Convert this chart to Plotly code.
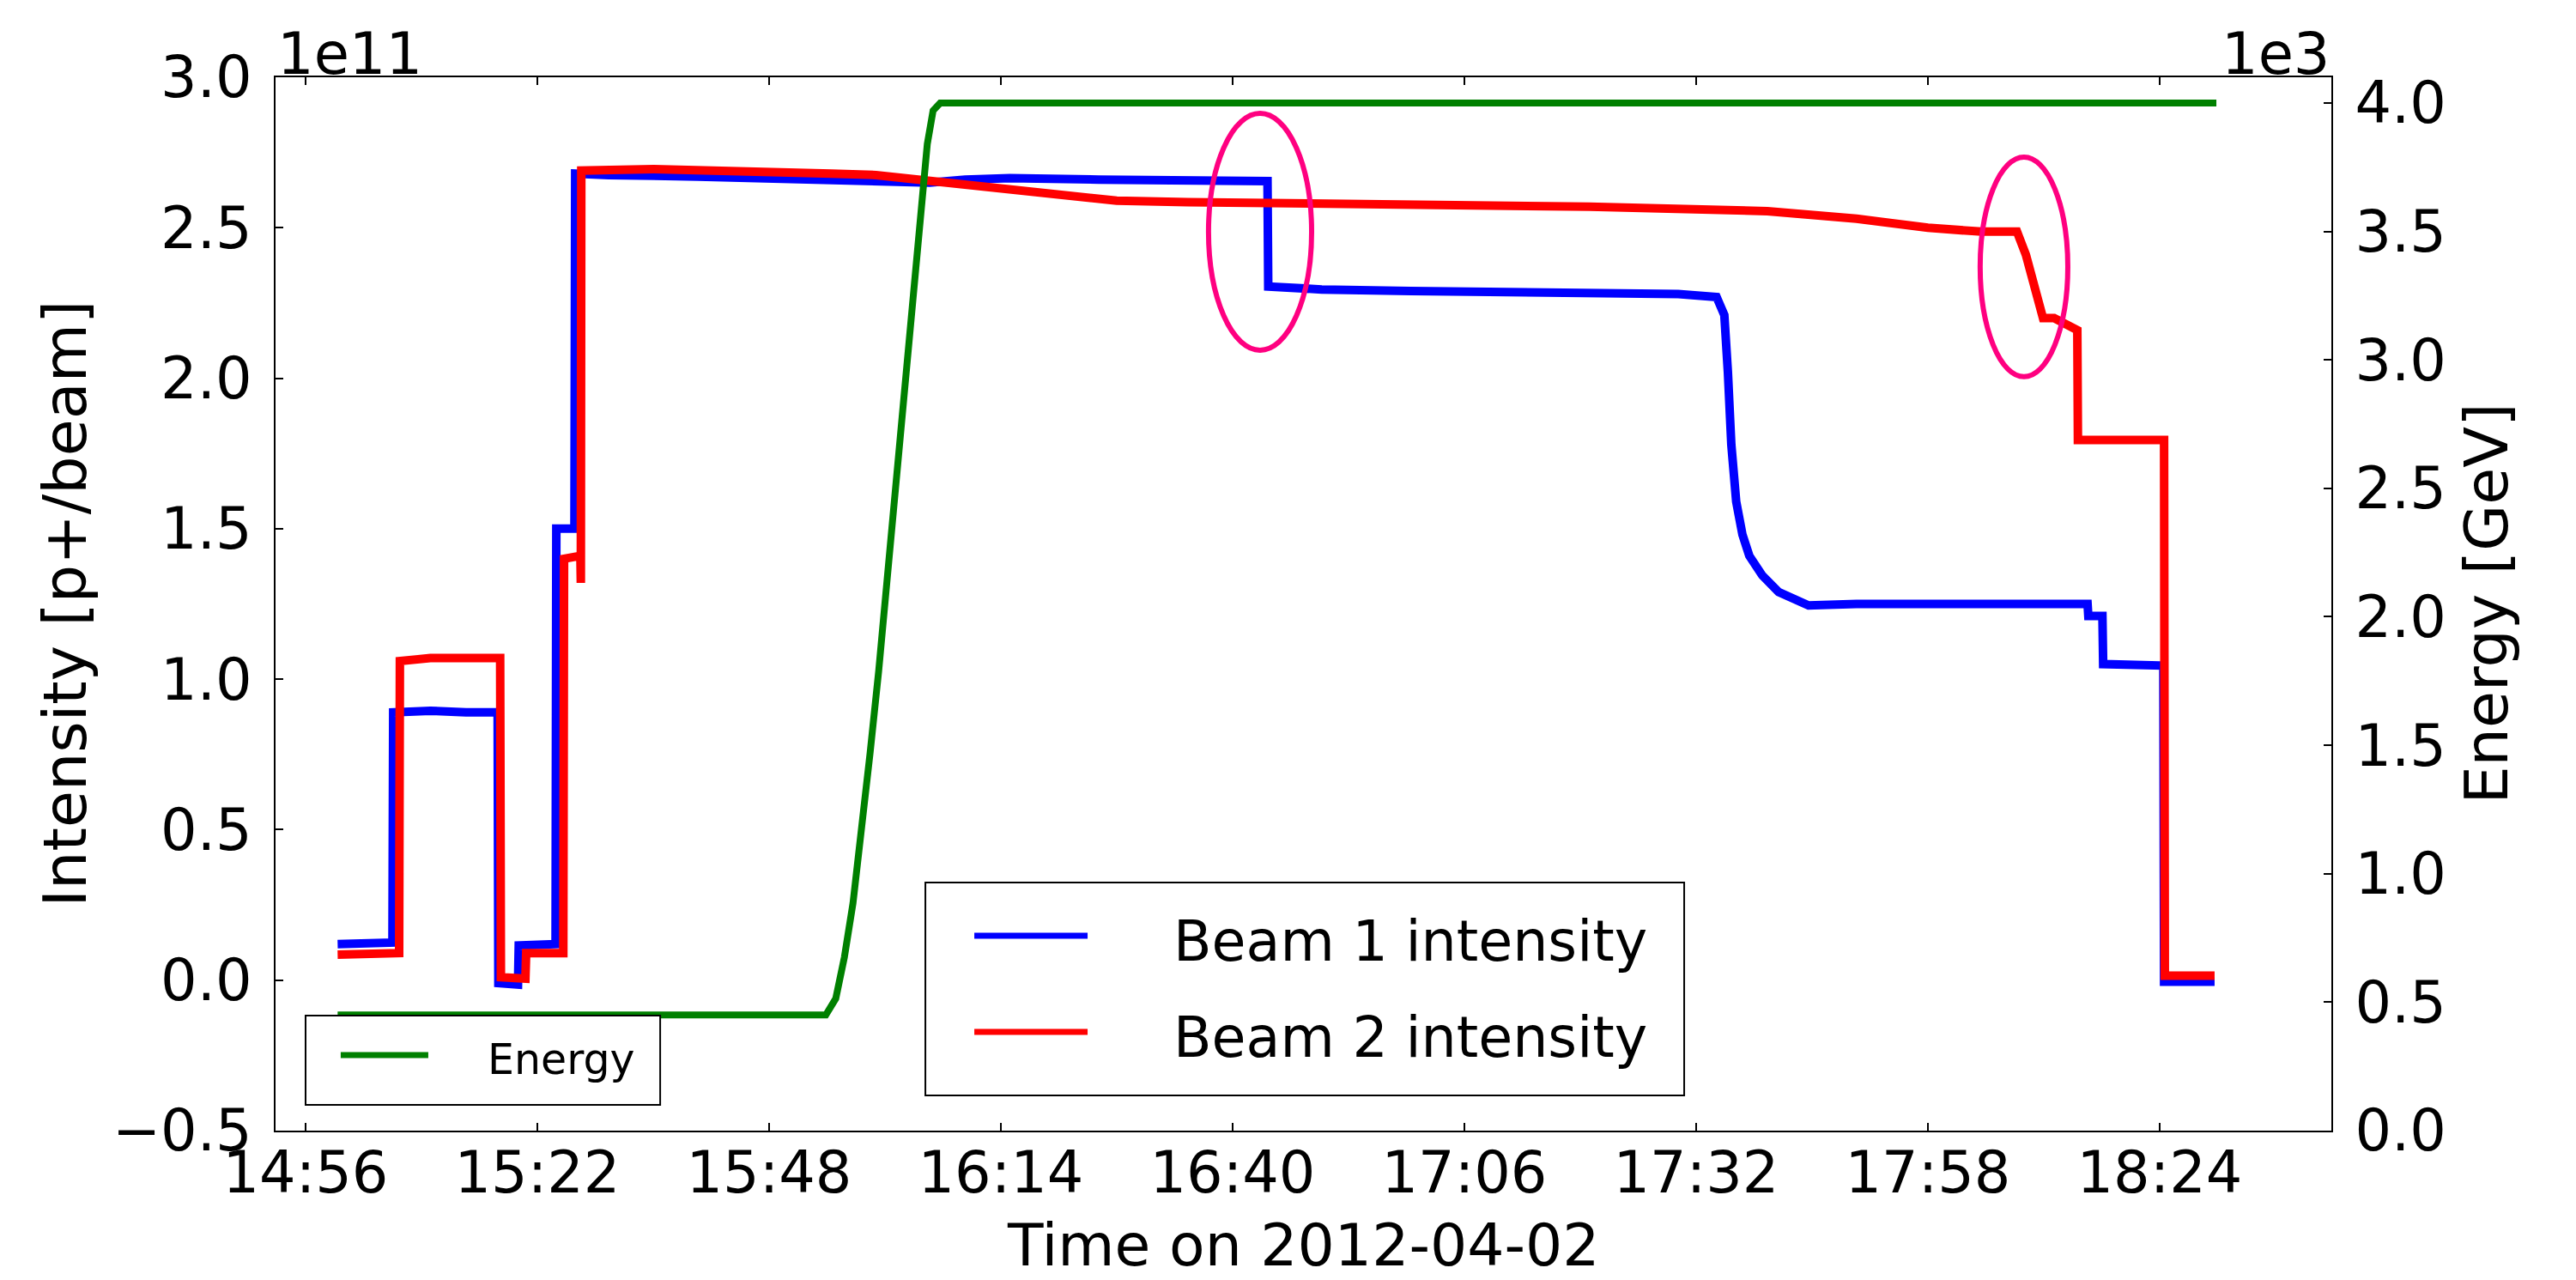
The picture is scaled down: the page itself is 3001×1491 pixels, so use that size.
import plotly.graph_objects as go

DATE = "2012-04-02 "

# ---- data (intensity in units of 1e11, energy in GeV) ----
b1_time = ["14:59:36", "15:02:30", "15:05:45", "15:05:50", "15:10:00", "15:14:00", "15:17:33",
           "15:17:38", "15:19:50", "15:19:55", "15:22:00", "15:24:03", "15:24:08", "15:26:10",
           "15:26:15", "15:30:00", "15:40:00", "15:50:00", "16:00:00", "16:06:00", "16:10:00",
           "16:15:00", "16:25:00", "16:35:00", "16:43:55", "16:44:00", "16:50:00", "17:00:00",
           "17:10:00", "17:20:00", "17:30:00", "17:34:18", "17:35:10", "17:35:34", "17:35:57",
           "17:36:30", "17:37:12", "17:37:58", "17:39:25", "17:41:15", "17:43:10", "17:44:37",
           "17:50:00", "18:00:00", "18:10:00", "18:15:55", "18:16:00", "18:17:35", "18:17:40",
           "18:24:25", "18:24:30", "18:30:10"]
b1_val = [0.12, 0.125, 0.125, 0.89, 0.895, 0.89, 0.89,
          -0.01, -0.015, 0.115, 0.12, 0.12, 1.50, 1.50,
          2.68, 2.675, 2.67, 2.665, 2.655, 2.65, 2.66,
          2.665, 2.66, 2.655, 2.655, 2.305, 2.295, 2.29,
          2.285, 2.28, 2.28, 2.27, 2.21, 2.02, 1.78,
          1.59, 1.48, 1.41, 1.345, 1.29, 1.26, 1.245,
          1.25, 1.25, 1.255, 1.25, 1.21, 1.21, 1.05,
          1.045, -0.005, -0.005]

b2_time = ["14:59:36", "15:03:00", "15:06:30", "15:06:35", "15:10:00", "15:14:00", "15:17:50",
           "15:17:55", "15:20:40", "15:20:45", "15:23:00", "15:24:55", "15:25:00", "15:26:50",
           "15:26:53", "15:26:56", "15:35:00", "15:45:00", "15:55:00", "16:00:00", "16:05:00",
           "16:10:00", "16:15:00", "16:20:00", "16:27:00", "16:35:00", "16:45:00", "17:05:00",
           "17:20:00", "17:30:00", "17:40:00", "17:50:00", "17:58:00", "18:04:00", "18:08:00",
           "18:09:00", "18:09:50", "18:10:25", "18:10:55", "18:12:10", "18:14:30", "18:14:46",
           "18:14:50", "18:24:30", "18:24:35", "18:30:10"]
b2_val = [0.085, 0.09, 0.09, 1.06, 1.07, 1.07, 1.07,
          0.01, 0.005, 0.09, 0.09, 0.09, 1.40, 1.41,
          1.32, 2.69, 2.695, 2.69, 2.68, 2.675, 2.66,
          2.645, 2.625, 2.61, 2.59, 2.585, 2.58, 2.575,
          2.57, 2.565, 2.555, 2.53, 2.50, 2.487, 2.487,
          2.41, 2.325, 2.258, 2.20, 2.20, 2.17, 2.16,
          1.795, 1.795, 0.015, 0.015]

en_time = ["14:59:36", "15:54:22", "15:55:29", "15:56:27", "15:57:25", "15:58:22", "15:59:20",
           "16:00:18", "16:01:35", "16:03:11", "16:04:47", "16:05:45", "16:06:24", "16:07:12",
           "18:30:22"]
en_val = [450, 450, 514, 675, 886, 1153, 1470,
          1790, 2270, 2907, 3520, 3840, 3970, 4000,
          4000]

left_ticks = [-0.5, 0.0, 0.5, 1.0, 1.5, 2.0, 2.5, 3.0]
right_ticks = [0, 500, 1000, 1500, 2000, 2500, 3000, 3500, 4000]
right_ticktext = ["0.0", "0.5", "1.0", "1.5", "2.0", "2.5", "3.0", "3.5", "4.0"]

x_range = [DATE + "14:52:38", DATE + "18:43:16"]
ellipses = [  # (t0, t1, y0, y1) in data coordinates of the left axis
    ("16:37:18", "16:48:52", 2.093, 2.880),
    ("18:03:52", "18:13:42", 2.005, 2.735),
]

FONT = "DejaVu Sans"
TICK_SIZE = 67
TITLE_SIZE = 68


def ts(lst):
    return [DATE + t for t in lst]


fig = go.Figure()
fig.add_trace(go.Scatter(x=ts(b1_time), y=b1_val, mode="lines", name="Beam 1 intensity",
                         line=dict(color="#0000ff", width=10), yaxis="y"))
fig.add_trace(go.Scatter(x=ts(b2_time), y=b2_val, mode="lines", name="Beam 2 intensity",
                         line=dict(color="#ff0000", width=10), yaxis="y"))
fig.add_trace(go.Scatter(x=ts(en_time), y=en_val, mode="lines", name="Energy",
                         line=dict(color="#008000", width=8), yaxis="y2"))

axis_common = dict(showline=True, linecolor="black", linewidth=2, ticks="inside",
                   ticklen=9, tickwidth=1.5, tickcolor="black", showgrid=False, zeroline=False,
                   tickfont=dict(family=FONT, size=TICK_SIZE, color="black"))

fig.update_layout(
    width=3001, height=1491, autosize=False,
    margin=dict(l=321, r=285, t=90, b=174, pad=0),
    paper_bgcolor="white", plot_bgcolor="white",
    showlegend=False,
    xaxis=dict(type="date", range=x_range, tick0=DATE + "14:56:00", dtick=26 * 60 * 1000,
               tickformat="%H:%M", mirror="ticks", ticklabelstandoff=-10, **axis_common),
    yaxis=dict(range=[-0.5, 3.0], tickvals=left_ticks, tickformat=".1f",
               ticklabelstandoff=12, **axis_common),
    yaxis2=dict(range=[0, 4100], tickvals=right_ticks, ticktext=right_ticktext,
                overlaying="y", side="right", ticklabelstandoff=12, **axis_common),
)

shapes = []
for t0, t1, y0, y1 in ellipses:
    shapes.append(dict(type="circle", xref="x", yref="y", x0=DATE + t0, x1=DATE + t1,
                       y0=y0, y1=y1, line=dict(color="#ff0080", width=6), layer="above"))

# legend boxes (paper coordinates)
shapes.append(dict(type="rect", xref="paper", yref="paper", x0=0.3161, x1=0.6852, y0=0.0334,
                   y1=0.2355, line=dict(color="black", width=2), fillcolor="white", layer="above"))
shapes.append(dict(type="line", xref="paper", yref="paper", x0=0.3399, x1=0.3950, y0=0.1850,
                   y1=0.1850, line=dict(color="#0000ff", width=7), layer="above"))
shapes.append(dict(type="line", xref="paper", yref="paper", x0=0.3399, x1=0.3950, y0=0.0937,
                   y1=0.0937, line=dict(color="#ff0000", width=7), layer="above"))
shapes.append(dict(type="rect", xref="paper", yref="paper", x0=0.01461, x1=0.1871, y0=0.02445,
                   y1=0.1092, line=dict(color="black", width=2), fillcolor="white", layer="above"))
shapes.append(dict(type="line", xref="paper", yref="paper", x0=0.0317, x1=0.0743, y0=0.0717,
                   y1=0.0717, line=dict(color="#008000", width=7), layer="above"))
fig.update_layout(shapes=shapes)

ann = []
ann.append(dict(text="Beam 1 intensity", xref="paper", yref="paper", x=0.4359, y=0.1793,
                xanchor="left", yanchor="middle", showarrow=False,
                font=dict(family=FONT, size=65, color="black")))
ann.append(dict(text="Beam 2 intensity", xref="paper", yref="paper", x=0.4359, y=0.0888,
                xanchor="left", yanchor="middle", showarrow=False,
                font=dict(family=FONT, size=65, color="black")))
ann.append(dict(text="Energy", xref="paper", yref="paper", x=0.1025, y=0.0676,
                xanchor="left", yanchor="middle", showarrow=False,
                font=dict(family=FONT, size=49, color="black")))
# offset texts
ann.append(dict(text="1e11", xref="paper", yref="paper", x=0.0, y=1.0, xanchor="left",
                yanchor="bottom", yshift=-14, showarrow=False,
                font=dict(family=FONT, size=TICK_SIZE, color="black")))
ann.append(dict(text="1e3", xref="paper", yref="paper", x=1.0, y=1.0, xanchor="right",
                yanchor="bottom", yshift=-14, showarrow=False,
                font=dict(family=FONT, size=TICK_SIZE, color="black")))
# axis titles
ann.append(dict(text="Intensity [p+/beam]", xref="paper", yref="paper", x=-0.1027, y=0.5,
                xanchor="center", yanchor="middle", textangle=-90, showarrow=False,
                font=dict(family=FONT, size=TITLE_SIZE + 2, color="black")))
ann.append(dict(text="Energy [GeV]", xref="paper", yref="paper", x=1.0752, y=0.5,
                xanchor="center", yanchor="middle", textangle=-90, showarrow=False,
                font=dict(family=FONT, size=TITLE_SIZE + 2, color="black")))
ann.append(dict(text="Time on 2012-04-02", xref="paper", yref="paper", x=0.5, y=-0.1085,
                xanchor="center", yanchor="middle", showarrow=False,
                font=dict(family=FONT, size=TITLE_SIZE, color="black")))
fig.update_layout(annotations=ann)

fig.write_html("out.html")
